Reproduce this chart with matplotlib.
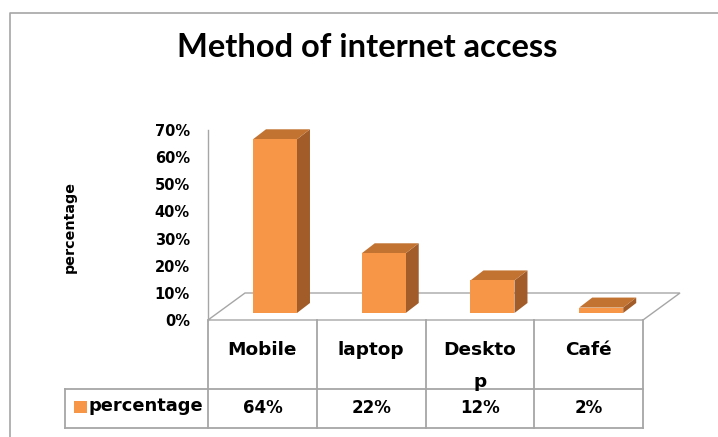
import textwrap
import matplotlib
matplotlib.use("Agg")
import matplotlib.pyplot as plt
from matplotlib.patches import Rectangle, Polygon

# data
categories = ["Mobile", "laptop", "Desktop", "Café"]
values = [64, 22, 12, 2]
series_name = "percentage"
y_ticks = [0, 10, 20, 30, 40, 50, 60, 70]

W, H = 718, 437
FRONT = "#F79646"
SIDE = "#A15C29"
TOP = "#C27331"
GRID = "#A6A6A6"
FONT = "DejaVu Sans"

fig = plt.figure(figsize=(W / 100, H / 100), dpi=100)

# overlay in pixel coords for frame and table
ov = fig.add_axes([0, 0, 1, 1])
ov.set_xlim(0, W)
ov.set_ylim(H, 0)
ov.axis("off")

# chart frame (left + top)
ov.plot([10, 10, W], [H, 13, 13], color=GRID, lw=1.2)

ov.text(367, 57, "Method of internet access", ha="center", va="baseline",
        fontsize=23.5, fontweight="bold", family="Lato")
ov.text(70, 227, series_name, rotation=90, ha="center", va="center",
        fontsize=10.3, fontweight="bold", family=FONT)

# plot area
x0, x1, y0, y1 = 208, 643, 320, 130
ax = fig.add_axes([x0 / W, 1 - y0 / H, (x1 - x0) / W, (y0 - y1) / H])
ax.set_xlim(-0.5, len(categories) - 0.5)
ax.set_ylim(0, 70)
ax.patch.set_alpha(0)
for s in ax.spines.values():
    s.set_visible(False)
ax.set_xticks([])
ax.set_yticks(y_ticks)
ax.set_yticklabels([f"{t}%" for t in y_ticks], fontsize=10.5,
                   fontweight="bold", family=FONT)
ax.tick_params(axis="y", length=0, pad=13)

xs = len(categories) / (x1 - x0)
ys = 70 / (y0 - y1)
fdx, fdy = 37 * xs, 27 * ys       # floor depth
bdx, bdy = 13 * xs, 10 * ys       # bar depth
ox, oy = 12.6 * xs, 7 * ys        # bar offset into depth
bw = 44 * xs

left, right = -0.5, len(categories) - 0.5
floor = Polygon([(left, 0), (right, 0), (right + fdx, fdy), (left + fdx, fdy)],
                closed=True, fill=False, edgecolor=GRID, lw=1, clip_on=False)
ax.add_patch(floor)
ax.plot([left, left], [0, 70], color=GRID, lw=1, clip_on=False)

for i, v in enumerate(values):
    xl = i + ox - bw / 2
    xr = xl + bw
    b = oy
    t = oy + v
    ax.add_patch(Polygon([(xr, b), (xr + bdx, b + bdy), (xr + bdx, t + bdy), (xr, t)],
                         closed=True, facecolor=SIDE, edgecolor="none", clip_on=False))
    ax.add_patch(Polygon([(xl, t), (xr, t), (xr + bdx, t + bdy), (xl + bdx, t + bdy)],
                         closed=True, facecolor=TOP, edgecolor="none", clip_on=False))
    ax.add_patch(Rectangle((xl, b), bw, v, facecolor=FRONT, edgecolor="none",
                           clip_on=False))

# data table
colw = (x1 - x0) / len(categories)
edges = [x0 + colw * i for i in range(len(categories) + 1)]
row1_top, row1_bot, row2_bot = 320, 389, 428
leg_left = 65
for e in edges:
    ov.plot([e, e], [row1_top, row2_bot], color=GRID, lw=1.3)
ov.plot([leg_left, leg_left], [row1_bot, row2_bot], color=GRID, lw=1.3)
ov.plot([leg_left, edges[-1]], [row1_bot, row1_bot], color=GRID, lw=1.3)
ov.plot([leg_left, edges[-1]], [row2_bot, row2_bot], color=GRID, lw=1.3)

for i, (c, v) in enumerate(zip(categories, values)):
    cx = (edges[i] + edges[i + 1]) / 2
    lines = textwrap.wrap(c, 6)
    for k, ln in enumerate(lines):
        ov.text(cx, 350 + 32 * k, ln, ha="center", va="center",
                fontsize=13.3, fontweight="bold", family=FONT)
    ov.text(cx, 408, f"{v}%", ha="center", va="center",
            fontsize=12, fontweight="bold", family=FONT)

ov.add_patch(Rectangle((74, 401), 13, 12, facecolor=FRONT, edgecolor="none"))
ov.text(89, 406, series_name, ha="left", va="center",
        fontsize=12.9, fontweight="bold", family=FONT)

fig.savefig("out.png", dpi=100)
